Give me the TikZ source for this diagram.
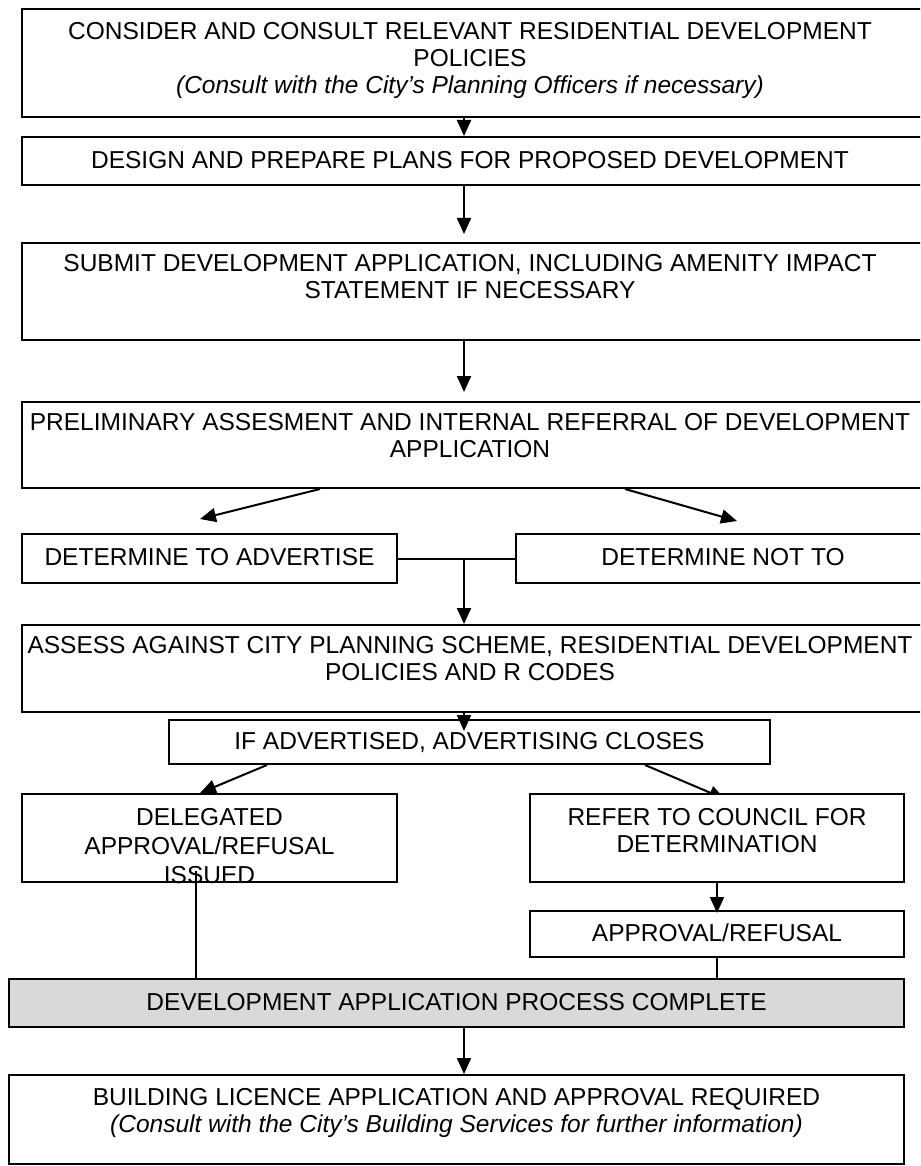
\documentclass[tikz,border=0pt]{standalone}
\usepackage{fontspec}
\setmainfont{Liberation Sans}
\usetikzlibrary{positioning,calc,arrows.meta,backgrounds}

\begin{document}
\begin{tikzpicture}[x=1pt, y=-1pt]
\useasboundingbox (0,0) rectangle (920,1166);
\clip (0,0) rectangle (920,1166);

\coordinate (V1) at (474, 63);
\coordinate (V2) at (474, 161);
\coordinate (V3) at (474, 291.5);
\coordinate (V4) at (474, 445);
\coordinate (V5) at (209.5, 558.5);
\coordinate (V6) at (723, 558.5);
\coordinate (V7) at (474, 668.5);
\coordinate (V8) at (469.5, 742);
\coordinate (V9) at (209.5, 838);
\coordinate (V10) at (717, 838);
\coordinate (V11) at (717, 934);
\coordinate (V12) at (456.5, 1003);
\coordinate (V13) at (456.5, 1119.5);
\coordinate (X0) at (464, 0);


\tikzset{BoxStyle/.style = {
 shape = rectangle,
 draw = black,
 fill = white,
 line width = 2pt,
 inner sep = 0pt} }

\node[BoxStyle, minimum width=904pt, minimum height=108pt] (B1) at (V1) {};
\node[BoxStyle, minimum width=904pt, minimum height=48pt] (B2) at (V2) {};
\node[BoxStyle, minimum width=904pt, minimum height=97pt] (B3) at (V3) {};
\node[BoxStyle, minimum width=904pt, minimum height=86pt] (B4) at (V4) {};
\node[BoxStyle, minimum width=375pt, minimum height=49pt] (B5) at (V5) {};
\node[BoxStyle, minimum width=414pt, minimum height=49pt] (B6) at (V6) {};
\node[BoxStyle, minimum width=904pt, minimum height=87pt] (B7) at (V7) {};
\node[BoxStyle, minimum width=601pt, minimum height=44pt] (B8) at (V8) {};
\node[BoxStyle, minimum width=375pt, minimum height=88pt] (B9) at (V9) {};
\node[BoxStyle, minimum width=374pt, minimum height=88pt] (B10) at (V10) {};
\node[BoxStyle, minimum width=374pt, minimum height=46pt] (B11) at (V11) {};
\node[BoxStyle, fill=gray!30, minimum width=895pt, minimum height=48pt] (B12) at (V12) {};
\node[BoxStyle, minimum width=895pt, minimum height=89pt] (B13) at (V13) {};


\tikzset{TextStyle/.style = {
 align = center,
 inner sep = 0pt,
 font = \fontsize{24.5}{27}\selectfont} }

\node[TextStyle, below=14pt of B1.north, xshift=-4pt] (T1) {CONSIDER AND CONSULT RELEVANT RESIDENTIAL DEVELOPMENT\\POLICIES\\\textit{(Consult with the City’s Planning Officers if necessary)}};
\node[TextStyle, below=15pt of B2.north, xshift=-4pt] (T2) {DESIGN AND PREPARE PLANS FOR PROPOSED DEVELOPMENT};
\node[TextStyle, below=12pt of B3.north, xshift=-4pt] (T3) {SUBMIT DEVELOPMENT APPLICATION, INCLUDING AMENITY IMPACT\\STATEMENT IF NECESSARY};
\node[TextStyle, below=12pt of B4.north, xshift=-4pt] (T4) {PRELIMINARY ASSESMENT AND INTERNAL REFERRAL OF DEVELOPMENT\\APPLICATION};
\node[TextStyle, below=15.5pt of B5.north] (T5) {DETERMINE TO ADVERTISE};
\node[TextStyle, below=15.5pt of B6.north] (T6) {DETERMINE NOT TO};
\node[TextStyle, below=12pt of B7.north, xshift=-4pt] (T7) {ASSESS AGAINST CITY PLANNING SCHEME, RESIDENTIAL DEVELOPMENT\\POLICIES AND R CODES};
\node[TextStyle, below=13pt of B8.north] (T8) {IF ADVERTISED, ADVERTISING CLOSES};
\begin{scope}
\clip (B9.south west) rectangle (B9.north east);
\node[TextStyle, font=\fontsize{24.5}{29}\selectfont, below=15pt of B9.north] (T9) {DELEGATED\\APPROVAL/REFUSAL\\ISSUED};
\end{scope}
\node[TextStyle, below=15pt of B10.north] (T10) {REFER TO COUNCIL FOR\\DETERMINATION};
\node[TextStyle, below=14pt of B11.north] (T11) {APPROVAL/REFUSAL};
\node[TextStyle, below=15pt of B12.north] (T12) {DEVELOPMENT APPLICATION PROCESS COMPLETE};
\node[TextStyle, below=14pt of B13.north] (T13) {BUILDING LICENCE APPLICATION AND APPROVAL REQUIRED\\\textit{(Consult with the City’s Building Services for further information)}};


\tikzset{EdgeStyle/.style = {line width=2pt, -{Triangle[length=16pt, width=14pt]}} }

\draw[EdgeStyle] (B1.south -| X0) -- (B2.north -| X0);
\draw[EdgeStyle, shorten >=8pt] (B2.south -| X0) -- (B3.north -| X0);
\draw[EdgeStyle, shorten >=9pt] (B3.south -| X0) -- (B4.north -| X0);
\draw[EdgeStyle] ([xshift=-154pt]B4.south) -- ([xshift=-9.5pt, yshift=14pt]B5.north);
\draw[EdgeStyle] ([xshift=151pt]B4.south) -- ([xshift=14pt, yshift=12pt]B6.north);
\draw[line width=2pt] (B5.east) -- (B6.west);
\draw[EdgeStyle] (B5.east -| X0) -- (B7.north -| X0);
\draw[EdgeStyle] (B7.south -| X0) -- ($(B8.north -| X0)+(0,12)$);
\draw[EdgeStyle] ([xshift=-202.5pt]B8.south) -- ([xshift=-9.5pt]B9.north);
\begin{scope}[on background layer]
\draw[EdgeStyle] ([xshift=175.5pt]B8.south) -- ([xshift=8pt, yshift=-6pt]B10.north);
\end{scope}
\draw[line width=2pt] ([xshift=-13.5pt, yshift=12pt]B9.south) -- ([xshift=-260.5pt]B12.north);
\draw[EdgeStyle] (B10.south) -- ([yshift=-3pt]B11.north);
\draw[line width=2pt] (B11.south) -- (B12.north -| B11.south);
\draw[EdgeStyle] (B12.south -| X0) -- (B13.north -| X0);

\end{tikzpicture}
\end{document}
